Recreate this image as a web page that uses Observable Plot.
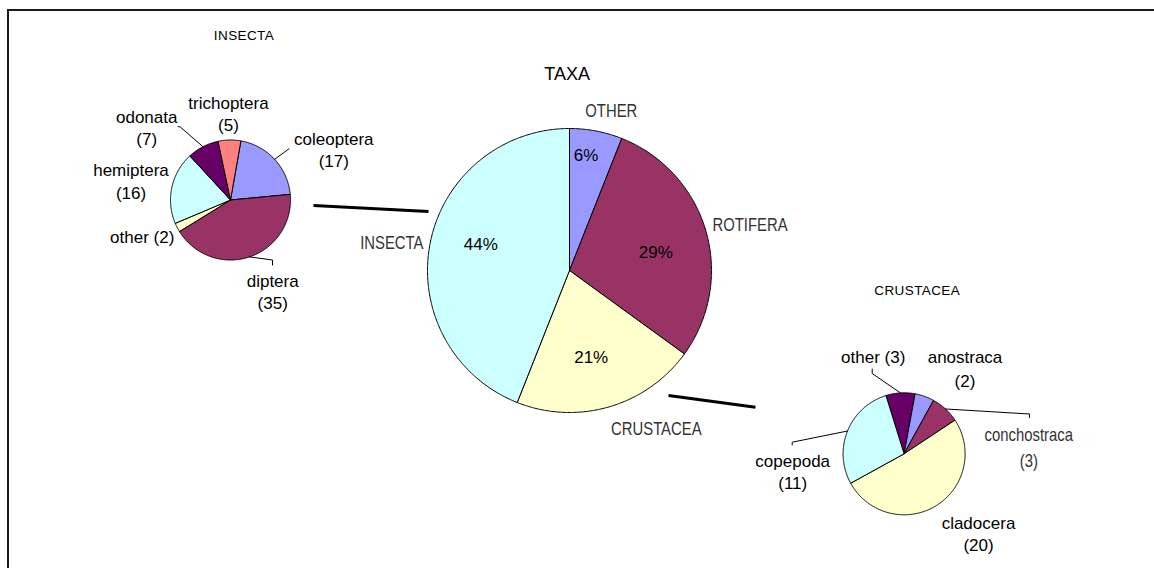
<!DOCTYPE html>
<html><head><meta charset="utf-8">
<script src="https://cdn.jsdelivr.net/npm/d3@7"></script>
<script src="https://cdn.jsdelivr.net/npm/@observablehq/plot@0.6"></script>
<style>
html,body{margin:0;padding:0;background:#fff;}
#wrap{position:relative;width:1154px;height:568px;overflow:hidden;background:#fff;}
#frame{position:absolute;left:7px;top:9px;width:1300px;height:700px;border-left:2px solid #1a1a1a;border-top:2px solid #1a1a1a;pointer-events:none;}
svg{display:block;}
</style></head><body>
<div id="wrap"><div id="chart"></div><div id="frame"></div></div>
<script>
// ---------- data ----------
const taxaCategories = ["OTHER", "ROTIFERA", "CRUSTACEA", "INSECTA"];
const taxaPercents = [6, 29, 21, 44];
const insectaCategories = ["coleoptera", "diptera", "other", "hemiptera", "odonata", "trichoptera"];
const insectaCounts = [17, 35, 2, 16, 7, 5];
const crustaceaCategories = ["other", "anostraca", "conchostraca", "cladocera", "copepoda"];
const crustaceaCounts = [3, 2, 3, 20, 11];
const pieTitles = ["TAXA", "INSECTA", "CRUSTACEA"];

// ---------- styles ----------
const taxaColors = ["#9999FF", "#993366", "#FFFFCC", "#CCFFFF"];
const insectaColors = ["#9999FF", "#993366", "#FFFFCC", "#CCFFFF", "#660066", "#FF8080"];
const crustaceaColors = ["#660066", "#9999FF", "#993366", "#FFFFCC", "#CCFFFF"];
const FONT = "Liberation Sans, Arial, Helvetica, sans-serif";
const NARROW_FILL = "#333333";

// ---------- layout ----------
const pies = [
  {id: "taxa", cats: taxaCategories, values: taxaPercents, colors: taxaColors, cx: 569, cy: 270, r: 142, start: 0},
  {id: "insecta", cats: insectaCategories, values: insectaCounts, colors: insectaColors, cx: 230, cy: 199.5, r: 60, start: 10},
  {id: "crustacea", cats: crustaceaCategories, values: crustaceaCounts, colors: crustaceaColors, cx: 903.6, cy: 453.3, r: 61, start: -17.3}
];
// title positions [x, baseline, fontSize]
const titlePos = [[566.7, 79.3, 18], [243.5, 39.5, 13.5], [916.7, 294.5, 13.5]];
// main pie: percent label positions and outer (narrow) label positions [x, baseline]
const taxaPctPos = [[585.5, 160], [655.3, 257.7], [590.7, 362.7], [480.3, 249]];
const taxaNamePos = [[610.8, 116], [749.5, 230], [655.8, 434], [391.3, 248.3]];
// small pie label positions: [x, baseline of name, baseline of value] or single line if value baseline null
const insectaLabelPos = [[333.3, 144, 166], [272.2, 286, 308], [141.7, 242, null], [130.5, 175.5, 198.3], [146.2, 122, 144], [228, 108.5, 130.5]];
const crustaceaLabelPos = [[872.7, 362, null], [964.5, 362.7, 386.7], [1028.3, 440, 466.7], [978, 528.3, 550], [792.2, 466.7, 488.3]];
const narrowLabels = new Set(["crustacea-2"]);
// leader elbows (after the start point on the slice's mid-angle)
const leaderElbows = {
  "insecta-0": [[288.5, 148.3]],
  "insecta-1": [[272, 259.5], [272, 264.5]],
  "insecta-4": [[180, 126.7], [177.5, 126]],
  "crustacea-0": [[871.7, 373], [871.7, 368.5]],
  "crustacea-2": [[1029, 413.5], [1029, 417]],
  "crustacea-4": [[791.7, 441.7], [791.7, 444.5]]
};
// thick connectors between pies
const connectors = [
  {x1: 313, y1: 205, x2: 428, y2: 211},
  {x1: 668, y1: 395, x2: 755, y2: 406.7}
];

// ---------- build ----------
const slicePts = [];
const midAngles = {};
for (const p of pies) {
  const a0 = p.start * Math.PI / 180;
  const arcs = d3.pie().sort(null).startAngle(a0).endAngle(a0 + 2 * Math.PI)(p.values);
  arcs.forEach((a, i) => {
    const key = p.id + "-" + i, color = p.colors[i];
    midAngles[key] = (a.startAngle + a.endAngle) / 2;
    slicePts.push({key, x: p.cx, y: p.cy, color});
    const n = Math.max(2, Math.ceil((a.endAngle - a.startAngle) / (Math.PI / 360)));
    for (let k = 0; k <= n; k++) {
      const t = a.startAngle + (a.endAngle - a.startAngle) * k / n;
      slicePts.push({key, x: p.cx + p.r * Math.sin(t), y: p.cy - p.r * Math.cos(t), color});
    }
    slicePts.push({key, x: p.cx, y: p.cy, color});
  });
}

const leaderPts = [];
for (const [key, elbows] of Object.entries(leaderElbows)) {
  const p = pies.find(d => key.startsWith(d.id + "-"));
  const t = midAngles[key];
  leaderPts.push({key, x: p.cx + p.r * Math.sin(t), y: p.cy - p.r * Math.cos(t)});
  for (const [x, y] of elbows) leaderPts.push({key, x, y});
}

const mid = (b, fs) => b - 0.32 * fs;
const titles = pieTitles.map((t, i) => ({text: t, x: titlePos[i][0], y: mid(titlePos[i][1], titlePos[i][2]), fs: titlePos[i][2]}));
const pctLabels = taxaPercents.map((v, i) => ({text: v + "%", x: taxaPctPos[i][0], y: mid(taxaPctPos[i][1], 17)}));
const normalLabels = [], grayLabels = [];
taxaCategories.forEach((c, i) => grayLabels.push({text: c, x: taxaNamePos[i][0], y: mid(taxaNamePos[i][1], 17.7)}));
function addSmall(pid, cats, vals, pos) {
  cats.forEach((c, i) => {
    const key = pid + "-" + i;
    const target = narrowLabels.has(key) ? grayLabels : normalLabels;
    const fs = narrowLabels.has(key) ? 17.7 : 17;
    const [x, b1, b2] = pos[i];
    if (b2 == null) target.push({text: `${c} (${vals[i]})`, x, y: mid(b1, fs)});
    else {
      target.push({text: c, x, y: mid(b1, fs)});
      target.push({text: `(${vals[i]})`, x, y: mid(b2, fs)});
    }
  });
}
addSmall("insecta", insectaCategories, insectaCounts, insectaLabelPos);
addSmall("crustacea", crustaceaCategories, crustaceaCounts, crustaceaLabelPos);

const chart = Plot.plot({
  width: 1154, height: 568,
  margin: 0,
  x: {domain: [0, 1154], range: [0, 1154], axis: null},
  y: {domain: [0, 568], range: [0, 568], axis: null},
  color: {type: "identity"},
  style: {fontFamily: FONT, background: "transparent"},
  marks: [
    Plot.line(slicePts, {x: "x", y: "y", z: "key", fill: "color", stroke: "#000", strokeWidth: 1, strokeLinejoin: "round", curve: "linear"}),
    Plot.line(leaderPts, {x: "x", y: "y", z: "key", stroke: "#000", strokeWidth: 1, curve: "linear"}),
    Plot.link(connectors, {x1: "x1", y1: "y1", x2: "x2", y2: "y2", stroke: "#000", strokeWidth: 3}),
    Plot.text(titles, {x: "x", y: "y", text: "text", fontSize: d => d.fs, fill: "#000", textAnchor: "middle", fontFamily: FONT}),
    Plot.text(pctLabels, {x: "x", y: "y", text: "text", fontSize: 17, fill: "#000", textAnchor: "middle", fontFamily: FONT}),
    Plot.text(normalLabels, {x: "x", y: "y", text: "text", fontSize: 17, fill: "#000", textAnchor: "middle", fontFamily: FONT}),
    Plot.text(grayLabels, {x: "x", y: "y", text: "text", fontSize: 17.7, fill: NARROW_FILL, textAnchor: "middle", fontFamily: FONT})
  ]
});
document.getElementById("chart").appendChild(chart);
const narrowTexts = new Set(grayLabels.map(d => d.text));
const spacedTitles = new Set(pieTitles.slice(1));
chart.querySelectorAll("text").forEach(el => {
  const g = el.parentNode;
  const fill = (g.getAttribute("fill") || "").toLowerCase();
  if (fill === NARROW_FILL && narrowTexts.has(el.textContent)) {
    const L = el.getComputedTextLength();
    el.setAttribute("textLength", (L * 0.84).toFixed(1));
    el.setAttribute("lengthAdjust", "spacingAndGlyphs");
  }
  if (spacedTitles.has(el.textContent) && fill === "#000") {
    el.style.letterSpacing = "0.4px";
  }
});
</script>
</body></html>
